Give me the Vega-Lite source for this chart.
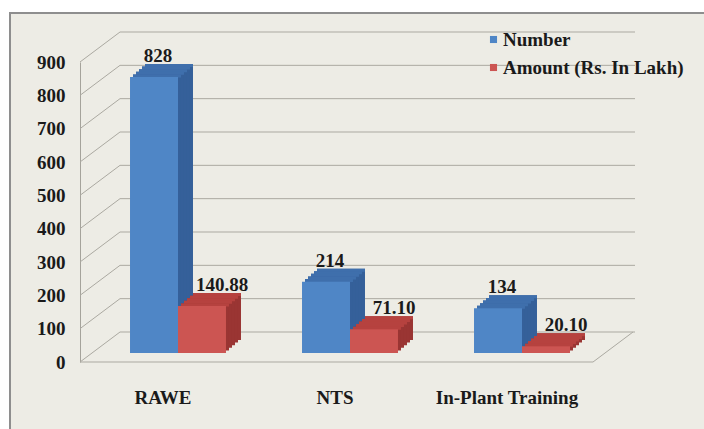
{
  "$schema": "https://vega.github.io/schema/vega-lite/v6.json",
  "width": 700,
  "height": 420,
  "autosize": {"type": "none"},
  "padding": {"left": 10, "top": 13, "right": 0, "bottom": 0},
  "background": "white",
  "config": {
    "view": {"fill": "#EDECE5", "stroke": "#8E8E8E", "strokeWidth": 2},
    "font": "Liberation Serif"
  },
  "datasets": {
    "bars": [
      {"category": "RAWE", "series": "Number", "value": 828, "label": "828"},
      {"category": "RAWE", "series": "Amount (Rs. In Lakh)", "value": 140.88, "label": "140.88"},
      {"category": "NTS", "series": "Number", "value": 214, "label": "214"},
      {"category": "NTS", "series": "Amount (Rs. In Lakh)", "value": 71.1, "label": "71.10"},
      {"category": "In-Plant Training", "series": "Number", "value": 134, "label": "134"},
      {"category": "In-Plant Training", "series": "Amount (Rs. In Lakh)", "value": 20.1, "label": "20.10"}
    ],
    "ticks": [
      {"v": 0}, {"v": 100}, {"v": 200}, {"v": 300}, {"v": 400},
      {"v": 500}, {"v": 600}, {"v": 700}, {"v": 800}, {"v": 900}
    ]
  },
  "layer": [
    {
      "data": {"name": "ticks"},
      "mark": {"type": "rule", "color": "#ABA9A1", "strokeWidth": 1, "yOffset": -30, "xOffset": -58, "x2Offset": 113},
      "encoding": {
        "x": {"datum": "RAWE", "type": "nominal",
          "scale": {"domain": ["RAWE", "NTS", "In-Plant Training"], "range": [82, 598], "paddingInner": 0.442, "paddingOuter": 0.221},
          "axis": {"title": null, "orient": "bottom", "offset": -45, "domain": false, "ticks": false, "tickSize": 0, "labelPadding": 0, "labelBaseline": "top", "labelOffset": -15, "labelAngle": 0, "labelFont": "Liberation Serif", "labelFontWeight": "bold", "labelFontSize": 19, "labelColor": "#1a1a1a", "grid": false}},
        "x2": {"datum": "In-Plant Training"},
        "y": {"field": "v", "type": "quantitative",
          "scale": {"domain": [0, 900], "range": [349, 49], "nice": false, "zero": true},
          "axis": {"title": null, "orient": "left", "offset": -70, "values": [0, 100, 200, 300, 400, 500, 600, 700, 800, 900], "domain": true, "domainColor": "#A5A39B", "ticks": false, "tickSize": 0, "labelPadding": 15, "labelFont": "Liberation Serif", "labelFontWeight": "bold", "labelFontSize": 19, "labelColor": "#1a1a1a", "grid": false}}
      }
    },
    {
      "data": {"name": "ticks"},
      "mark": {"type": "rule", "color": "#ABA9A1", "strokeWidth": 1, "y2Offset": -30, "xOffset": -98, "x2Offset": -58},
      "encoding": {
        "x": {"datum": "RAWE", "type": "nominal"},
        "x2": {"datum": "RAWE"},
        "y": {"field": "v", "type": "quantitative"},
        "y2": {"field": "v"}
      }
    },
    {
      "data": {"values": [{"v": 0}]},
      "mark": {"type": "rule", "color": "#ABA9A1", "strokeWidth": 1, "xOffset": -98, "x2Offset": 71},
      "encoding": {
        "x": {"datum": "RAWE", "type": "nominal"},
        "x2": {"datum": "In-Plant Training"},
        "y": {"field": "v", "type": "quantitative"}
      }
    },
    {
      "data": {"values": [{"v": 0}]},
      "mark": {"type": "rule", "color": "#ABA9A1", "strokeWidth": 1, "y2Offset": -30, "xOffset": 71, "x2Offset": 111},
      "encoding": {
        "x": {"datum": "In-Plant Training", "type": "nominal"},
        "x2": {"datum": "In-Plant Training"},
        "y": {"field": "v", "type": "quantitative"},
        "y2": {"field": "v"}
      }
    },
    {"data": {"name": "bars"}, "transform": [{"filter": "datum.series === 'Number'"}],
     "mark": {"type": "bar", "width": {"band": 0.5}, "xOffset": -9, "yOffset": -22, "y2Offset": -22, "color": "#35609A"},
     "encoding": {"x": {"field": "category", "type": "nominal"}, "y": {"field": "value", "type": "quantitative"}}},
    {"data": {"name": "bars"}, "transform": [{"filter": "datum.series === 'Number'"}],
     "mark": {"type": "bar", "width": {"band": 0.5}, "xOffset": -12, "yOffset": -19.4, "y2Offset": -19.4, "color": "#35609A"},
     "encoding": {"x": {"field": "category", "type": "nominal"}, "y": {"field": "value", "type": "quantitative"}}},
    {"data": {"name": "bars"}, "transform": [{"filter": "datum.series === 'Number'"}],
     "mark": {"type": "bar", "width": {"band": 0.5}, "xOffset": -15, "yOffset": -16.8, "y2Offset": -16.8, "color": "#35609A"},
     "encoding": {"x": {"field": "category", "type": "nominal"}, "y": {"field": "value", "type": "quantitative"}}},
    {"data": {"name": "bars"}, "transform": [{"filter": "datum.series === 'Number'"}],
     "mark": {"type": "bar", "width": {"band": 0.5}, "xOffset": -18, "yOffset": -14.2, "y2Offset": -14.2, "color": "#35609A"},
     "encoding": {"x": {"field": "category", "type": "nominal"}, "y": {"field": "value", "type": "quantitative"}}},
    {"data": {"name": "bars"}, "transform": [{"filter": "datum.series === 'Number'"}],
     "mark": {"type": "bar", "width": {"band": 0.5}, "xOffset": -21, "yOffset": -11.6, "y2Offset": -11.6, "color": "#35609A"},
     "encoding": {"x": {"field": "category", "type": "nominal"}, "y": {"field": "value", "type": "quantitative"}}},
    {"data": {"name": "bars"}, "transform": [{"filter": "datum.series !== 'Number'"}],
     "mark": {"type": "bar", "width": {"band": 0.5}, "xOffset": 39, "yOffset": -22, "y2Offset": -22, "color": "#9A3533"},
     "encoding": {"x": {"field": "category", "type": "nominal"}, "y": {"field": "value", "type": "quantitative"}}},
    {"data": {"name": "bars"}, "transform": [{"filter": "datum.series !== 'Number'"}],
     "mark": {"type": "bar", "width": {"band": 0.5}, "xOffset": 36, "yOffset": -19.4, "y2Offset": -19.4, "color": "#9A3533"},
     "encoding": {"x": {"field": "category", "type": "nominal"}, "y": {"field": "value", "type": "quantitative"}}},
    {"data": {"name": "bars"}, "transform": [{"filter": "datum.series !== 'Number'"}],
     "mark": {"type": "bar", "width": {"band": 0.5}, "xOffset": 33, "yOffset": -16.8, "y2Offset": -16.8, "color": "#9A3533"},
     "encoding": {"x": {"field": "category", "type": "nominal"}, "y": {"field": "value", "type": "quantitative"}}},
    {"data": {"name": "bars"}, "transform": [{"filter": "datum.series !== 'Number'"}],
     "mark": {"type": "bar", "width": {"band": 0.5}, "xOffset": 30, "yOffset": -14.2, "y2Offset": -14.2, "color": "#9A3533"},
     "encoding": {"x": {"field": "category", "type": "nominal"}, "y": {"field": "value", "type": "quantitative"}}},
    {"data": {"name": "bars"}, "transform": [{"filter": "datum.series !== 'Number'"}],
     "mark": {"type": "bar", "width": {"band": 0.5}, "xOffset": 27, "yOffset": -11.6, "y2Offset": -11.6, "color": "#9A3533"},
     "encoding": {"x": {"field": "category", "type": "nominal"}, "y": {"field": "value", "type": "quantitative"}}},
    {"data": {"name": "bars"}, "transform": [{"filter": "datum.series === 'Number'"}],
     "mark": {"type": "bar", "width": {"band": 0.5}, "xOffset": -9, "yOffset": -22, "y2Offset": -19, "color": "#3F6FAC"},
     "encoding": {"x": {"field": "category", "type": "nominal"}, "y": {"field": "value", "type": "quantitative"}, "y2": {"field": "value"}}},
    {"data": {"name": "bars"}, "transform": [{"filter": "datum.series === 'Number'"}],
     "mark": {"type": "bar", "width": {"band": 0.5}, "xOffset": -12, "yOffset": -19.4, "y2Offset": -16.4, "color": "#3F6FAC"},
     "encoding": {"x": {"field": "category", "type": "nominal"}, "y": {"field": "value", "type": "quantitative"}, "y2": {"field": "value"}}},
    {"data": {"name": "bars"}, "transform": [{"filter": "datum.series === 'Number'"}],
     "mark": {"type": "bar", "width": {"band": 0.5}, "xOffset": -15, "yOffset": -16.8, "y2Offset": -13.8, "color": "#3F6FAC"},
     "encoding": {"x": {"field": "category", "type": "nominal"}, "y": {"field": "value", "type": "quantitative"}, "y2": {"field": "value"}}},
    {"data": {"name": "bars"}, "transform": [{"filter": "datum.series === 'Number'"}],
     "mark": {"type": "bar", "width": {"band": 0.5}, "xOffset": -18, "yOffset": -14.2, "y2Offset": -11.2, "color": "#3F6FAC"},
     "encoding": {"x": {"field": "category", "type": "nominal"}, "y": {"field": "value", "type": "quantitative"}, "y2": {"field": "value"}}},
    {"data": {"name": "bars"}, "transform": [{"filter": "datum.series === 'Number'"}],
     "mark": {"type": "bar", "width": {"band": 0.5}, "xOffset": -21, "yOffset": -11.6, "y2Offset": -8.6, "color": "#3F6FAC"},
     "encoding": {"x": {"field": "category", "type": "nominal"}, "y": {"field": "value", "type": "quantitative"}, "y2": {"field": "value"}}},
    {"data": {"name": "bars"}, "transform": [{"filter": "datum.series !== 'Number'"}],
     "mark": {"type": "bar", "width": {"band": 0.5}, "xOffset": 39, "yOffset": -22, "y2Offset": -19, "color": "#B6423F"},
     "encoding": {"x": {"field": "category", "type": "nominal"}, "y": {"field": "value", "type": "quantitative"}, "y2": {"field": "value"}}},
    {"data": {"name": "bars"}, "transform": [{"filter": "datum.series !== 'Number'"}],
     "mark": {"type": "bar", "width": {"band": 0.5}, "xOffset": 36, "yOffset": -19.4, "y2Offset": -16.4, "color": "#B6423F"},
     "encoding": {"x": {"field": "category", "type": "nominal"}, "y": {"field": "value", "type": "quantitative"}, "y2": {"field": "value"}}},
    {"data": {"name": "bars"}, "transform": [{"filter": "datum.series !== 'Number'"}],
     "mark": {"type": "bar", "width": {"band": 0.5}, "xOffset": 33, "yOffset": -16.8, "y2Offset": -13.8, "color": "#B6423F"},
     "encoding": {"x": {"field": "category", "type": "nominal"}, "y": {"field": "value", "type": "quantitative"}, "y2": {"field": "value"}}},
    {"data": {"name": "bars"}, "transform": [{"filter": "datum.series !== 'Number'"}],
     "mark": {"type": "bar", "width": {"band": 0.5}, "xOffset": 30, "yOffset": -14.2, "y2Offset": -11.2, "color": "#B6423F"},
     "encoding": {"x": {"field": "category", "type": "nominal"}, "y": {"field": "value", "type": "quantitative"}, "y2": {"field": "value"}}},
    {"data": {"name": "bars"}, "transform": [{"filter": "datum.series !== 'Number'"}],
     "mark": {"type": "bar", "width": {"band": 0.5}, "xOffset": 27, "yOffset": -11.6, "y2Offset": -8.6, "color": "#B6423F"},
     "encoding": {"x": {"field": "category", "type": "nominal"}, "y": {"field": "value", "type": "quantitative"}, "y2": {"field": "value"}}},
    {
      "data": {"name": "bars"},
      "mark": {"type": "bar", "yOffset": -9, "y2Offset": -9},
      "encoding": {
        "x": {"field": "category", "type": "nominal"},
        "xOffset": {"field": "series", "type": "nominal", "scale": {"domain": ["Number", "Amount (Rs. In Lakh)"], "paddingInner": 0, "paddingOuter": 0}},
        "y": {"field": "value", "type": "quantitative"},
        "color": {"field": "series", "type": "nominal",
          "scale": {"domain": ["Number", "Amount (Rs. In Lakh)"], "range": ["#4F86C6", "#CC5552"]},
          "legend": {"title": null, "orient": "none", "legendX": 474, "legendY": 17, "direction": "vertical", "symbolType": "square", "symbolSize": 50, "symbolStrokeWidth": 0, "labelFont": "Liberation Serif", "labelFontWeight": "bold", "labelFontSize": 19, "labelColor": "#1a1a1a", "labelOffset": 0, "labelLimit": 400, "rowPadding": 8}}
      }
    },
    {
      "data": {"name": "bars"},
      "transform": [{"filter": "datum.series === 'Number'"}],
      "mark": {"type": "text", "font": "Liberation Serif", "fontWeight": "bold", "fontSize": 19, "color": "#1a1a1a", "baseline": "alphabetic", "align": "center", "yOffset": -24, "xOffset": -20},
      "encoding": {
        "x": {"field": "category", "type": "nominal"},
        "y": {"field": "value", "type": "quantitative"},
        "text": {"field": "label"}
      }
    },
    {
      "data": {"name": "bars"},
      "transform": [{"filter": "datum.series !== 'Number'"}],
      "mark": {"type": "text", "font": "Liberation Serif", "fontWeight": "bold", "fontSize": 19, "color": "#1a1a1a", "baseline": "alphabetic", "align": "center", "yOffset": -24, "xOffset": 44},
      "encoding": {
        "x": {"field": "category", "type": "nominal"},
        "y": {"field": "value", "type": "quantitative"},
        "text": {"field": "label"}
      }
    }
  ]
}
